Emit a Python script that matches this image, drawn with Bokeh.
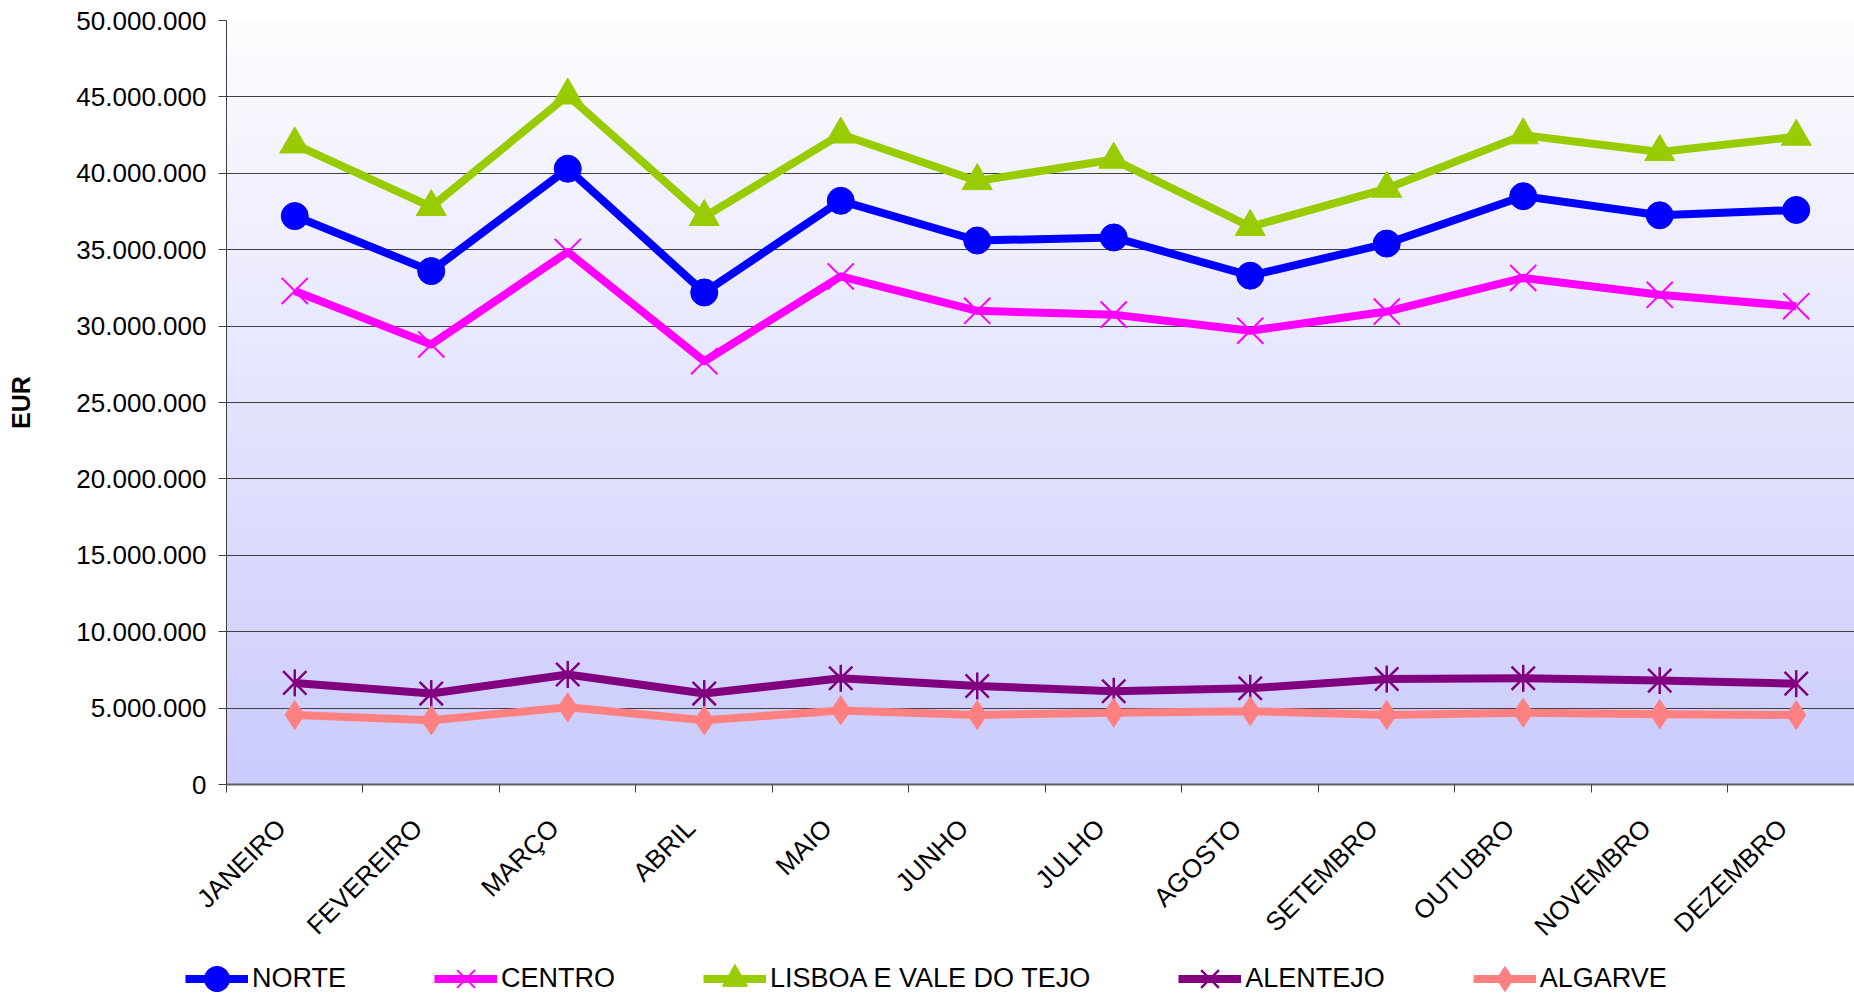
import numpy as np
from math import pi
from bokeh.plotting import figure
from bokeh.layouts import column
from bokeh.models import Range1d, FixedTicker, Legend, LegendItem
from bokeh.embed import file_html
from bokeh.resources import INLINE

# ---------------- data ----------------
months = ["JANEIRO", "FEVEREIRO", "MARÇO", "ABRIL", "MAIO", "JUNHO",
          "JULHO", "AGOSTO", "SETEMBRO", "OUTUBRO", "NOVEMBRO", "DEZEMBRO"]

norte = [37200000, 33600000, 40300000, 32200000, 38200000, 35600000,
         35800000, 33300000, 35400000, 38500000, 37250000, 37600000]
centro = [32300000, 28800000, 34850000, 27700000, 33250000, 31000000,
          30750000, 29700000, 30950000, 33150000, 32050000, 31300000]
lisboa = [41900000, 37800000, 45100000, 37150000, 42550000, 39500000,
          40900000, 36500000, 39000000, 42500000, 41400000, 42400000]
alentejo = [6650000, 5950000, 7200000, 5950000, 6950000, 6450000,
            6100000, 6300000, 6900000, 6950000, 6800000, 6600000]
algarve = [4550000, 4200000, 5050000, 4200000, 4850000, 4550000,
           4700000, 4800000, 4550000, 4700000, 4600000, 4550000]

series_names = ["NORTE", "CENTRO", "LISBOA E VALE DO TEJO", "ALENTEJO", "ALGARVE"]

y_ticks = [0, 5000000, 10000000, 15000000, 20000000, 25000000,
           30000000, 35000000, 40000000, 45000000, 50000000]
y_tick_labels = ["0", "5.000.000", "10.000.000", "15.000.000", "20.000.000",
                 "25.000.000", "30.000.000", "35.000.000", "40.000.000",
                 "45.000.000", "50.000.000"]
y_axis_title = "EUR"

# ---------------- layout ----------------
FONT = "Liberation Sans"
W = 1854
H_MAIN = 956
H_LEG = 40
FRAME_LEFT = 226
x_pos = [i + 0.5 for i in range(len(months))]
label_pos = [i + 0.40 for i in range(len(months))]
x_end = 11.927
y_max = 50000000

p = figure(width=W, height=H_MAIN, x_range=Range1d(0, x_end),
           y_range=Range1d(0, y_max), output_backend="svg",
           toolbar_location=None, min_border_left=FRAME_LEFT, min_border_top=20,
           min_border_right=0, min_border_bottom=H_MAIN - 784,
           outline_line_color=None, border_fill_color="white",
           background_fill_color="white")

# gradient background of the plot area
N = 256
img = np.empty((N, 1), dtype=np.uint32)
view = img.view(dtype=np.uint8).reshape((N, 1, 4))
t = np.linspace(0, 1, N)  # 0 = bottom, 1 = top
bottom_c = np.array([203, 203, 253])
top_c = np.array([253, 253, 255])
cols = bottom_c[None, :] * (1 - t[:, None]) + top_c[None, :] * t[:, None]
view[:, 0, 0] = cols[:, 0].astype(np.uint8)
view[:, 0, 1] = cols[:, 1].astype(np.uint8)
view[:, 0, 2] = cols[:, 2].astype(np.uint8)
view[:, 0, 3] = 255
p.image_rgba(image=[img], x=0, y=0, dw=x_end, dh=y_max, level="image")

# grid
p.xgrid.visible = False
p.ygrid.ticker = FixedTicker(ticks=y_ticks)
p.ygrid.grid_line_color = "#404040"
p.ygrid.grid_line_width = 1

# y axis
p.yaxis.ticker = FixedTicker(ticks=y_ticks)
p.yaxis.major_label_overrides = {v: s for v, s in zip(y_ticks, y_tick_labels)}
p.yaxis.major_label_text_font = FONT
p.yaxis.major_label_text_font_size = "26px"
p.yaxis.major_label_text_color = "black"
p.yaxis.major_label_standoff = 12
p.yaxis.major_tick_out = 8
p.yaxis.major_tick_in = 0
p.yaxis.minor_tick_out = 0
p.yaxis.minor_tick_in = 0
p.yaxis.axis_line_color = "#404040"
p.yaxis.major_tick_line_color = "#404040"
p.yaxis.axis_label = y_axis_title
p.yaxis.axis_label_text_font = FONT
p.yaxis.axis_label_text_font_style = "bold"
p.yaxis.axis_label_text_font_size = "25px"
p.yaxis.axis_label_text_color = "black"
p.yaxis.axis_label_standoff = 38

# x axis: month names centred in each slot, tick marks on slot boundaries
p.xaxis.ticker = FixedTicker(ticks=label_pos, minor_ticks=list(range(len(months))))
p.xaxis.major_label_overrides = {v: s for v, s in zip(label_pos, months)}
p.xaxis.major_label_orientation = pi / 4
p.xaxis.major_label_text_font = FONT
p.xaxis.major_label_text_font_size = "26px"
p.xaxis.major_label_text_color = "black"
p.xaxis.major_label_standoff = 31
p.xaxis.major_tick_out = 0
p.xaxis.major_tick_in = 0
p.xaxis.minor_tick_out = 8
p.xaxis.minor_tick_in = 0
p.xaxis.minor_tick_line_color = "#404040"
p.xaxis.axis_line_color = "#606060"
p.xaxis.axis_line_width = 2

LW = 8
styles = [
    dict(color="#0000FF", markers=[dict(marker="circle", size=27)]),
    dict(color="#FF00FF", markers=[dict(marker="x", size=37, line_width=2)]),
    dict(color="#99CC00", markers=[dict(marker="triangle", size=30)]),
    dict(color="#800080", markers=[dict(marker="x", size=33, line_width=2.5),
                                   dict(marker="dash", size=27, angle=pi / 2, line_width=2.5)]),
    dict(color="#FF8080", markers=[dict(marker="diamond", size=29)]),
]
data = [norte, centro, lisboa, alentejo, algarve]

for vals, st in zip(data, styles):
    c = st["color"]
    p.line(x_pos, vals, line_color=c, line_width=LW, line_join="round")
    for m in st["markers"]:
        p.scatter(x_pos, vals, fill_color=c, line_color=c, **m)

# ---------------- legend (own strip below the chart) ----------------
pl = figure(width=W, height=H_LEG, x_range=Range1d(0, 1), y_range=Range1d(0, 1),
            output_backend="svg", toolbar_location=None,
            x_axis_location=None, y_axis_location=None,
            min_border_left=0, min_border_right=0, min_border_top=0,
            min_border_bottom=0, outline_line_color=None,
            background_fill_color="white", border_fill_color="white")
pl.xgrid.visible = False
pl.ygrid.visible = False

leg_x = 185
if "frame_align" in pl.properties():
    pl.frame_align = False
    p.frame_align = False
else:
    leg_x = 185 - FRAME_LEFT

nan = [float("nan")]
items = []
for name, st in zip(series_names, styles):
    c = st["color"]
    rs = [pl.line(nan, nan, line_color=c, line_width=LW)]
    for m in st["markers"]:
        rs.append(pl.scatter(nan, nan, fill_color=c, line_color=c, **m))
    items.append(LegendItem(label=name, renderers=rs))

legend = Legend(items=items, orientation="horizontal", location=(leg_x, -14),
                glyph_width=63, glyph_height=63, label_standoff=4, spacing=88,
                padding=0, margin=0, border_line_color=None,
                background_fill_alpha=0, label_text_font=FONT,
                label_text_font_size="27px", label_text_color="black")
pl.add_layout(legend)

layout = column(p, pl, spacing=0)
open("out.html", "w").write(file_html(layout, INLINE))
